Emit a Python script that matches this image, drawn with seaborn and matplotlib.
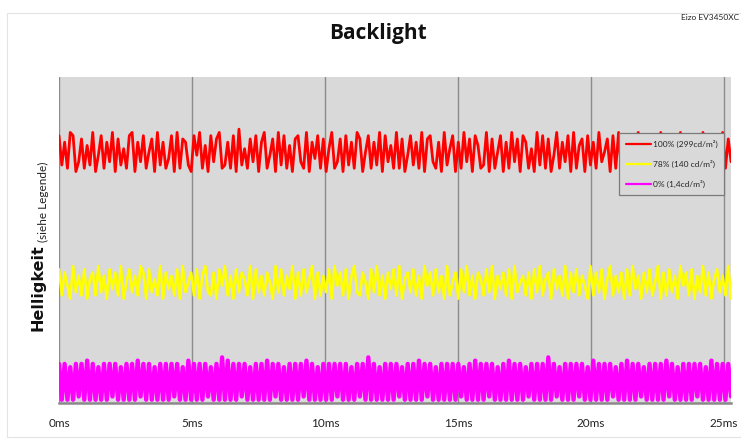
import numpy as np
import pandas as pd
import matplotlib
matplotlib.use("Agg")
import matplotlib.pyplot as plt
from matplotlib.patches import Rectangle
from matplotlib.ticker import MultipleLocator
import seaborn as sns

# ---------------- data (hand-read estimates, arbitrary brightness units 0..100) -------------
sample_step_ms = 0.1057
red_100 = [
    82,73,80,72,83,82,71,74,81,72,79,73,83,71,76,82,72,80,74,83,
    71,81,73,78,72,82,83,71,80,74,82,72,77,81,71,83,73,80,72,75,
    82,71,83,72,81,80,73,71,82,76,83,72,79,71,82,74,81,83,72,73,
    80,72,82,71,84,73,78,72,81,74,82,71,80,83,72,76,81,71,83,73,
    82,72,79,71,81,82,74,72,83,71,80,75,82,72,81,71,78,83,72,74,
    81,71,82,73,80,72,83,81,71,77,82,72,80,73,83,71,82,74,79,72,
    83,72,81,71,76,82,73,80,72,83,71,81,82,74,72,80,71,83,73,78,
    82,71,80,72,83,74,81,71,82,79,72,73,83,71,81,72,77,82,71,80,
    72,83,74,81,71,82,80,72,78,71,83,73,82,72,81,71,76,83,72,80,
    74,82,71,83,72,79,81,71,82,73,80,72,83,74,77,81,71,82,72,83,
    71,80,73,82,72,81,83,71,78,72,82,74,80,71,83,72,81,73,76,82,
    72,83,71,80,74,82,72,81,71,83,79,72,82,73,80,71,83,72,81,74,
]
yellow_78 = [
    41,33,40,36,32,42,34,39,33,41,32,38,40,33,42,34,39,32,41,35,
    40,33,42,32,37,41,34,39,33,42,40,32,41,34,38,33,42,32,40,35,
    39,33,41,32,42,34,37,40,33,41,32,39,42,34,33,40,32,41,36,42,
    33,39,32,41,34,40,38,33,42,32,41,34,39,33,40,37,32,42,34,41,
    33,39,35,42,32,40,33,41,34,38,42,32,40,33,39,34,41,32,42,36,
    40,33,41,32,39,42,34,33,40,37,32,41,34,42,33,39,32,40,35,41,
    33,42,32,38,40,34,41,33,39,32,42,36,40,33,41,34,39,32,42,33,
    37,40,32,41,34,42,33,39,32,40,38,33,41,34,42,32,39,35,40,33,
    41,32,42,34,37,39,33,40,32,41,34,42,33,38,40,32,41,35,39,33,
    42,32,40,34,41,33,39,36,32,42,33,40,34,41,32,38,42,33,39,34,
    40,32,41,33,42,35,39,32,40,34,41,33,37,42,32,40,33,41,34,39,
    32,42,36,40,33,41,32,39,34,42,33,40,32,38,41,34,39,33,42,32,
]
magenta_0 = [
    12,1,12,1,11,1,12,2,12,1,13,1,12,1,11,1,12,1,12,2,
    12,1,11,1,12,1,12,1,13,2,12,1,12,1,11,1,12,1,12,1,
    12,2,12,1,11,1,13,1,12,1,12,1,12,2,11,1,12,1,14,1,
    13,1,12,1,12,2,12,1,11,1,12,1,12,1,13,1,12,2,12,1,
    11,1,12,1,12,1,12,2,13,1,12,1,11,1,12,1,12,1,12,2,
    12,1,12,1,11,1,12,2,12,1,14,1,12,1,11,1,12,1,12,1,
    12,2,11,1,12,1,12,1,13,1,12,2,12,1,11,1,12,1,12,1,
    12,1,12,2,11,1,12,1,13,1,12,1,12,2,12,1,11,1,12,1,
    13,1,12,1,12,1,11,2,12,1,12,1,12,1,14,1,12,2,11,1,
    12,1,12,1,12,2,12,1,11,1,13,1,12,1,12,1,12,2,11,1,
    12,1,13,1,12,1,12,2,11,1,12,1,12,1,12,1,13,2,12,1,
    11,1,12,1,12,1,12,2,12,1,11,1,13,1,12,1,12,1,12,2,
]
series_labels = ["100% (299cd/m²)", "78% (140 cd/m²)", "0% (1,4cd/m²)"]
series_colors = ["#ff0000", "#ffff00", "#ff00ff"]
series_widths = [2.0, 1.9, 3.1]
tick_values = [0, 5, 10, 15, 20, 25]
tick_labels = ["0ms", "5ms", "10ms", "15ms", "20ms", "25ms"]

# ---------------- build table ----------------
frames = []
for lab, vals in zip(series_labels, [red_100, yellow_78, magenta_0]):
    t = np.arange(len(vals)) * sample_step_ms
    frames.append(pd.DataFrame({"t": t, "v": vals, "series": lab}))
df = pd.concat(frames, ignore_index=True)

sns.set_style("white", {"axes.facecolor": "#d9d9d9"})
plt.rcParams["font.family"] = ["Lato", "DejaVu Sans"]

fig = plt.figure(figsize=(7.41, 4.41), dpi=100)
fig.patch.set_facecolor("white")
ax = fig.add_axes([59/741, 38/441, 672/741, 326/441])

sns.lineplot(data=df, x="t", y="v", hue="series", hue_order=series_labels,
             palette=series_colors, linewidth=1.7, ax=ax, estimator=None,
             sort=False, legend=True)
for line, lw in zip(ax.get_lines()[:3], series_widths):
    line.set_linewidth(lw)

ax.set_xlim(0, 25.26)
ax.set_ylim(0, 100)
ax.set_yticks([])
ax.set_xticks(tick_values)
ax.set_xticklabels(tick_labels, fontsize=8.5, color="#222222")
ax.xaxis.set_minor_locator(MultipleLocator(2.5))
ax.tick_params(axis="x", which="major", length=5, width=1.2, color="#8a8a8a", pad=6)
ax.tick_params(axis="x", which="minor", length=4, width=1.0, color="#8a8a8a")
ax.set_xlabel("")
ax.set_ylabel("")
for s in ["top", "right", "left"]:
    ax.spines[s].set_visible(False)
ax.spines["bottom"].set_color("#8a8a8a")
ax.spines["bottom"].set_linewidth(1.8)
for xv in tick_values:
    ax.axvline(xv, color="#8c8c8c", linewidth=1.0, zorder=0.5)

leg = ax.legend(loc="upper left", bbox_to_anchor=(0.834, 0.828), borderaxespad=0,
                fontsize=6, frameon=True, fancybox=False, shadow=False,
                framealpha=1.0, handlelength=3.0, labelspacing=1.45, borderpad=0.8,
                handletextpad=0.2, edgecolor="#7a7a7a")
leg.get_frame().set_linewidth(0.9)
for line in leg.get_lines():
    line.set_linewidth(1.6)

fig.text(378/741, 1 - 33/441, "Backlight", ha="center", va="center",
         fontsize=15, fontweight="bold", color="#111111",
         family=["Open Sans", "DejaVu Sans"])
fig.text(739/741, 1 - 17/441, "Eizo EV3450XC", ha="right", va="center",
         fontsize=6, color="#222222")
fig.text(38/741, 1 - 331/441, "Helligkeit", rotation=90, ha="center", va="bottom",
         fontsize=11.5, fontweight="bold", color="#111111",
         family=["DejaVu Sans"])
fig.text(43/741, 1 - 242/441, "(siehe Legende)", rotation=90, ha="center", va="bottom",
         fontsize=8.5, color="#222222")

fig.patches.append(Rectangle((7/741, 4/441), 1.0, 1 - 17/441, transform=fig.transFigure,
                             fill=False, edgecolor="#e3e3e3", linewidth=0.8))

fig.savefig("out.png", dpi=100)
